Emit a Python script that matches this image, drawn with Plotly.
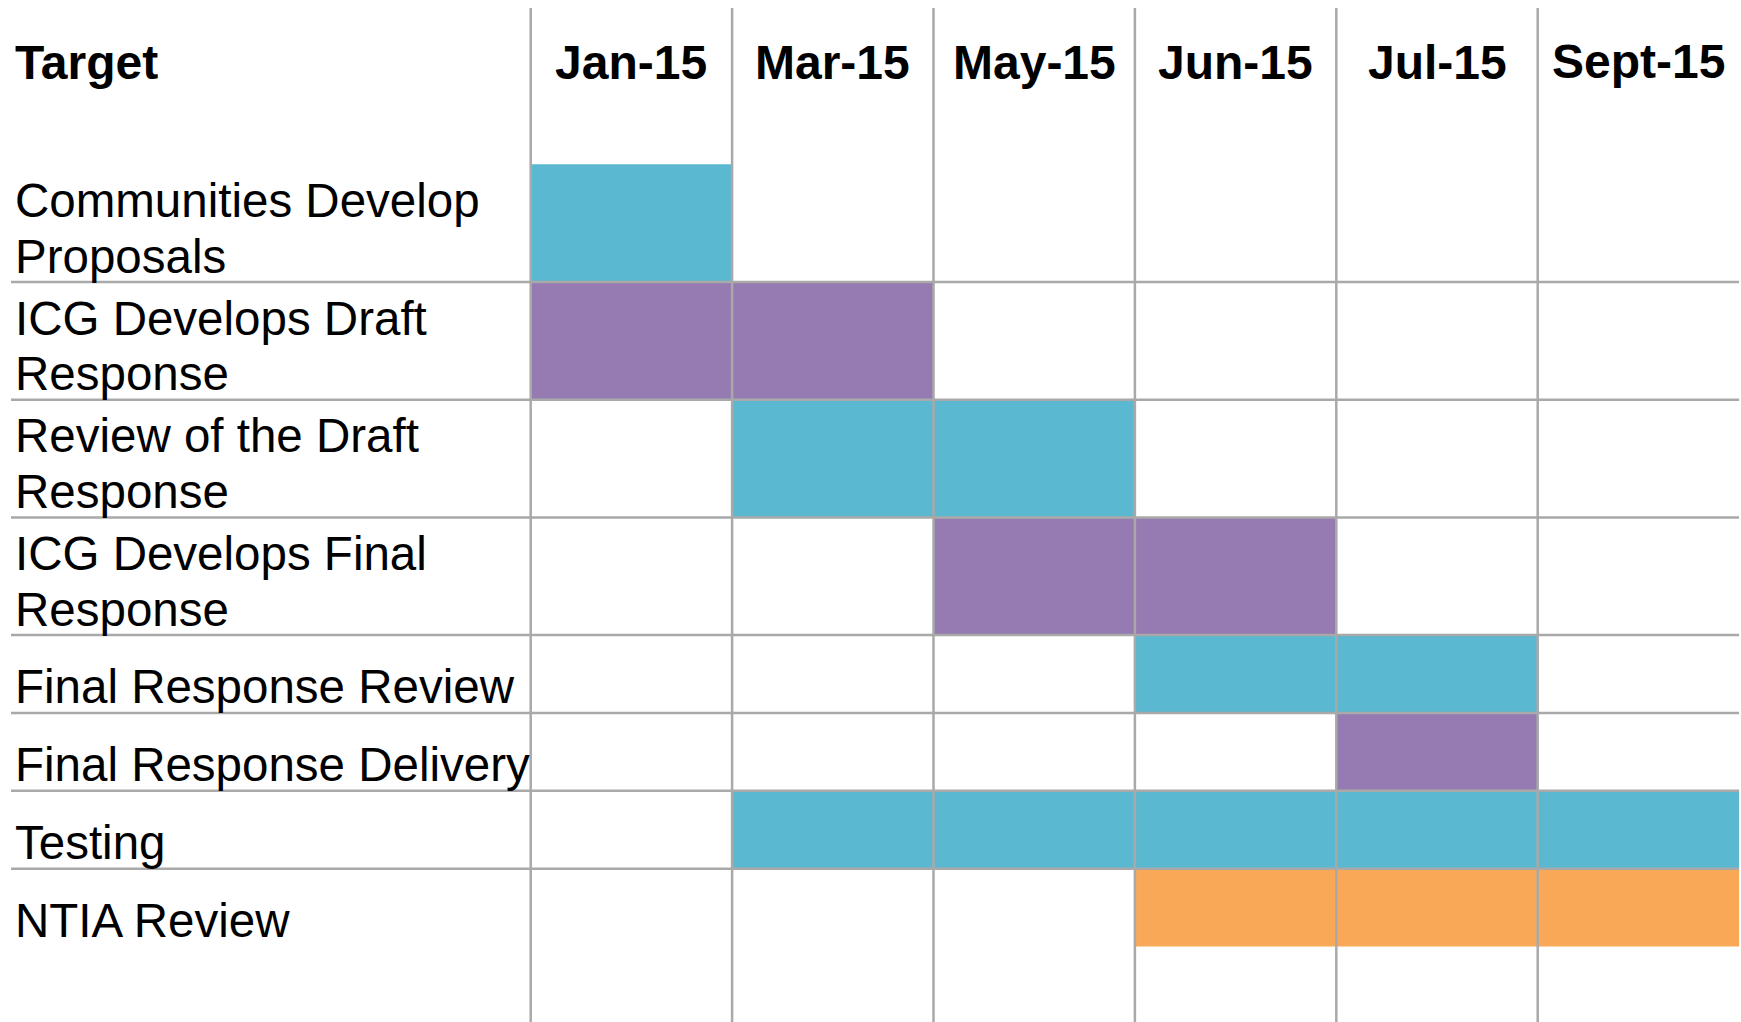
import plotly.graph_objects as go

# ---------------- data ----------------
months = ["Jan-15", "Mar-15", "May-15", "Jun-15", "Jul-15", "Sept-15"]
tasks = [
    "Communities Develop<br>Proposals",
    "ICG Develops Draft<br>Response",
    "Review of the Draft<br>Response",
    "ICG Develops Final<br>Response",
    "Final Response Review",
    "Final Response Delivery",
    "Testing",
    "NTIA Review",
]
start_month = [0, 0, 1, 2, 3, 4, 1, 3]      # index into months
duration = [1, 2, 2, 2, 2, 1, 5, 3]         # number of month columns
phase = ["community", "icg", "review", "icg", "review", "icg", "review", "ntia"]
header_label = "Target"

# ---------------- style / layout ----------------
W, H = 1741, 1022
BLUE, PURPLE, ORANGE = "#5BB8D1", "#957BB1", "#F9A857"
phase_colors = {"community": BLUE, "review": BLUE, "icg": PURPLE, "ntia": ORANGE}
GRID = "#A9A9A9"
GRID_W = 2.5
FONT = "Liberation Sans, Arial, Helvetica, sans-serif"

# pixel geometry (x in month units, y in pixels)
COL0_PX = 530.7        # left edge of first month column
COL_W_PX = 201.4       # width of a month column
ROW0_PX = 164.3        # top of first task row
TALL_PX, SHORT_PX = 117.7, 77.85
row_h = [TALL_PX if "<br>" in t else SHORT_PX for t in tasks]

x_range = [-COL0_PX / COL_W_PX, (W - COL0_PX) / COL_W_PX]
y_range = [H, 0]   # reversed, pixel units


def px_x(p):
    return (p - COL0_PX) / COL_W_PX


bounds = [ROW0_PX]
for h in row_h:
    bounds.append(bounds[-1] + h)
centers = [(bounds[i] + bounds[i + 1]) / 2 for i in range(len(tasks))]

fig = go.Figure()
fig.add_trace(go.Bar(
    orientation="h",
    y=centers,
    x=duration,
    base=start_month,
    width=row_h,
    marker=dict(color=[phase_colors[p] for p in phase], line=dict(width=0)),
    hoverinfo="skip",
    showlegend=False,
))

shapes = []
for i in range(len(months)):
    shapes.append(dict(type="line", xref="x", yref="y", x0=i, x1=i,
                       y0=8, y1=H,
                       line=dict(color=GRID, width=GRID_W), layer="above"))
for b in bounds[1:-1]:
    shapes.append(dict(type="line", xref="x", yref="y", x0=px_x(11), x1=len(months),
                       y0=b, y1=b,
                       line=dict(color=GRID, width=GRID_W), layer="above"))

annotations = []
HEAD_BOTTOM_PX = 90.5
annotations.append(dict(text="<b>%s</b>" % header_label, x=px_x(13), y=HEAD_BOTTOM_PX,
                        xref="x", yref="y", xanchor="left", yanchor="bottom",
                        showarrow=False, font=dict(family=FONT, size=48, color="black")))
for i, m in enumerate(months):
    annotations.append(dict(text="<b>%s</b>" % m, x=i + 0.5, y=HEAD_BOTTOM_PX,
                            xref="x", yref="y", xanchor="center", yanchor="bottom",
                            showarrow=False, font=dict(family=FONT, size=48, color="black")))

LINE_GAP_PX = 55.5
for i, t in enumerate(tasks):
    lines = t.split("<br>")
    bottom = bounds[i + 1] + 2.5
    for k, ln in enumerate(reversed(lines)):
        annotations.append(dict(text=ln, x=px_x(13), y=bottom - k * LINE_GAP_PX,
                                xref="x", yref="y", xanchor="left", yanchor="bottom",
                                showarrow=False,
                                font=dict(family=FONT, size=47.5, color="black")))

fig.update_layout(
    width=W, height=H, autosize=False,
    margin=dict(l=0, r=0, t=0, b=0, pad=0),
    paper_bgcolor="white", plot_bgcolor="white",
    xaxis=dict(range=x_range, visible=False, fixedrange=True),
    yaxis=dict(range=y_range, visible=False, fixedrange=True),
    shapes=shapes, annotations=annotations,
    barmode="overlay",
)

fig.write_html("out.html", config={"displayModeBar": False},
               post_script="document.body.style.margin='0';document.body.style.overflow='hidden';")
